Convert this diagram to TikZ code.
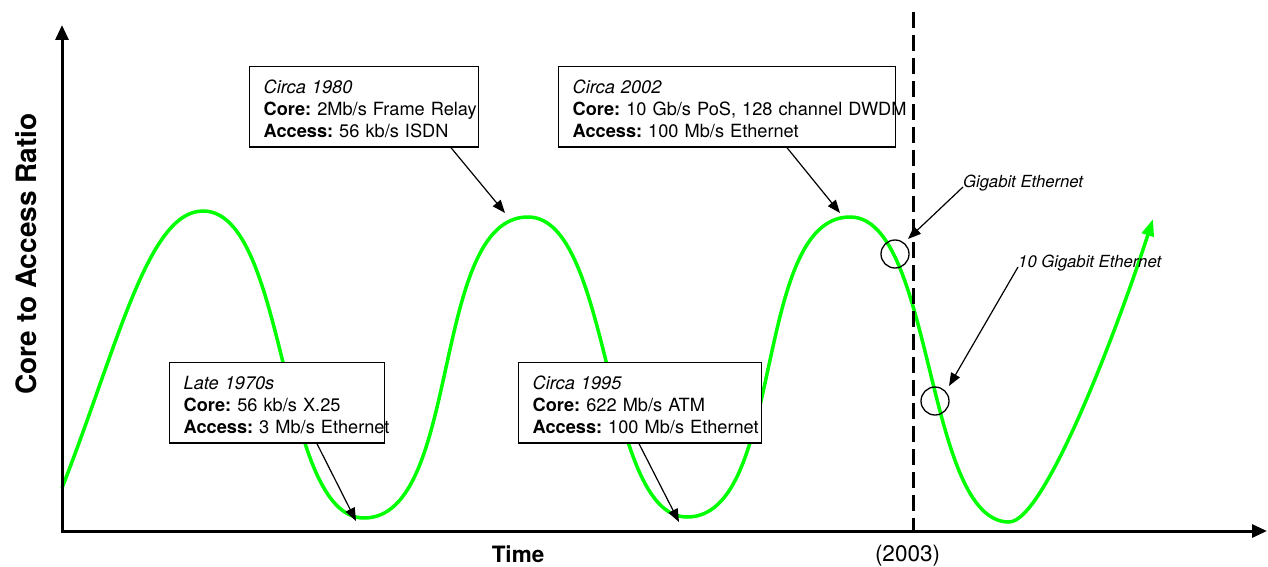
\documentclass[tikz,border=0pt]{standalone}
\usepackage{fontspec}
\setmainfont{TeX Gyre Heros}
\usetikzlibrary{arrows.meta}
\definecolor{curvegreen}{RGB}{0,255,0}
\begin{document}
\frenchspacing
\begin{tikzpicture}[x=1pt,y=-1pt,
  box/.style={draw, line width=1.3pt, fill=white, anchor=north west,
    inner xsep=14pt, inner ysep=6pt, align=left,
    font=\fontsize{18.2}{21.7}\selectfont},
  callout/.style={line width=1.2pt, -{Triangle[length=13pt,width=10pt]}},
  axis/.style={line width=3pt, {Triangle[length=15pt,width=13pt]}-{Triangle[length=15pt,width=13pt]}},
  ring/.style={draw, circle, line width=1.3pt, minimum size=28pt, inner sep=0pt},
  trend/.style={draw=curvegreen, line width=3.5pt, -{Triangle[length=17pt,width=12pt]}},
  lab/.style={font=\fontsize{16.7}{20}\selectfont\itshape, inner sep=0pt, anchor=base west},
  dashline/.style={line width=3pt, dash pattern=on 16pt off 7pt}]
\useasboundingbox (0,0) rectangle (1268,567);

% trend curve
\draw[trend] (62,488)
  .. controls (118,345) and (148,211) .. (203,211)
  .. controls (288,211) and (279,518) .. (364,518)
  .. controls (462,518) and (430,217) .. (528,217)
  .. controls (612,217) and (603,517) .. (687,517)
  .. controls (785,517) and (752,217) .. (850,217)
  .. controls (934,217) and (925,522) .. (1009,522)
  .. controls (1045,522) and (1119,324) .. (1153,219);

% 2003 marker
\coordinate (dtop) at (913,12);
\coordinate (dbot) at (913,531);
\draw[dashline] (dtop) -- (dbot);

% axes
\coordinate (ytop) at (62,25);
\coordinate (orig) at (62,531);
\coordinate (xend) at (1267,531);
\draw[axis] (ytop) -- (orig) -- (xend);

\node[rotate=90, anchor=base, font=\fontsize{28}{32}\selectfont\bfseries] (ylab) at (36,254) {Core to Access Ratio};
\node[anchor=base, font=\fontsize{22.5}{26}\selectfont\bfseries] (xlab) at (518,562) {Time};
\node[anchor=base, font=\fontsize{22.5}{26}\selectfont] (year) at (907.5,561) {(2003)};

% boxes
\node[box, text width=187pt] (b1970) at (169,362)
 {\mbox{\rule{0pt}{21pt}\textit{Late 1970s}}\\\mbox{\textbf{Core:} 56 kb/s X.25}\\\mbox{\textbf{Access:} 3 Mb/s Ethernet\rule[-4pt]{0pt}{4pt}}};
\node[box, text width=201pt] (b1980) at (249,66)
 {\mbox{\rule{0pt}{21pt}\textit{Circa 1980}}\\\mbox{\textbf{Core:} 2Mb/s Frame Relay}\\\mbox{\textbf{Access:} 56 kb/s ISDN\rule[-4pt]{0pt}{4pt}}};
\node[box, text width=215pt] (b1995) at (518,362)
 {\mbox{\rule{0pt}{21pt}\textit{Circa 1995}}\\\mbox{\textbf{Core:} 622 Mb/s ATM}\\\mbox{\textbf{Access:} 100 Mb/s Ethernet\rule[-4pt]{0pt}{4pt}}};
\node[box, text width=309pt] (b2002) at (558,66)
 {\mbox{\rule{0pt}{21pt}\textit{Circa 2002}}\\\mbox{\textbf{Core:} 10 Gb/s PoS, 128 channel DWDM}\\\mbox{\textbf{Access:} 100 Mb/s Ethernet\rule[-4pt]{0pt}{4pt}}};

% callout tips
\coordinate (t1970) at (356,521);
\coordinate (t1980) at (505,213);
\coordinate (t1995) at (679,522);
\coordinate (t2002) at (840,213);
\coordinate (tge) at (908,239);
\coordinate (t10ge) at (949,386);

\draw[callout] ([xshift=148pt]b1970.south west) -- (t1970);
\draw[callout] ([xshift=202pt]b1980.south west) -- (t1980);
\draw[callout] ([xshift=121pt]b1995.south west) -- (t1995);
\draw[callout] ([xshift=229pt]b2002.south west) -- (t2002);

% circles and labels
\node[ring] (c1) at (895,254) {};
\node[ring] (c2) at (935,401) {};
\node[lab] (g1) at (963,187) {Gigabit Ethernet};
\node[lab] (g2) at (1018,267) {10 Gigabit Ethernet};
\draw[callout] (g1.base west) -- (tge);
\draw[callout] (g2.base west) -- (t10ge);
\end{tikzpicture}
\end{document}
